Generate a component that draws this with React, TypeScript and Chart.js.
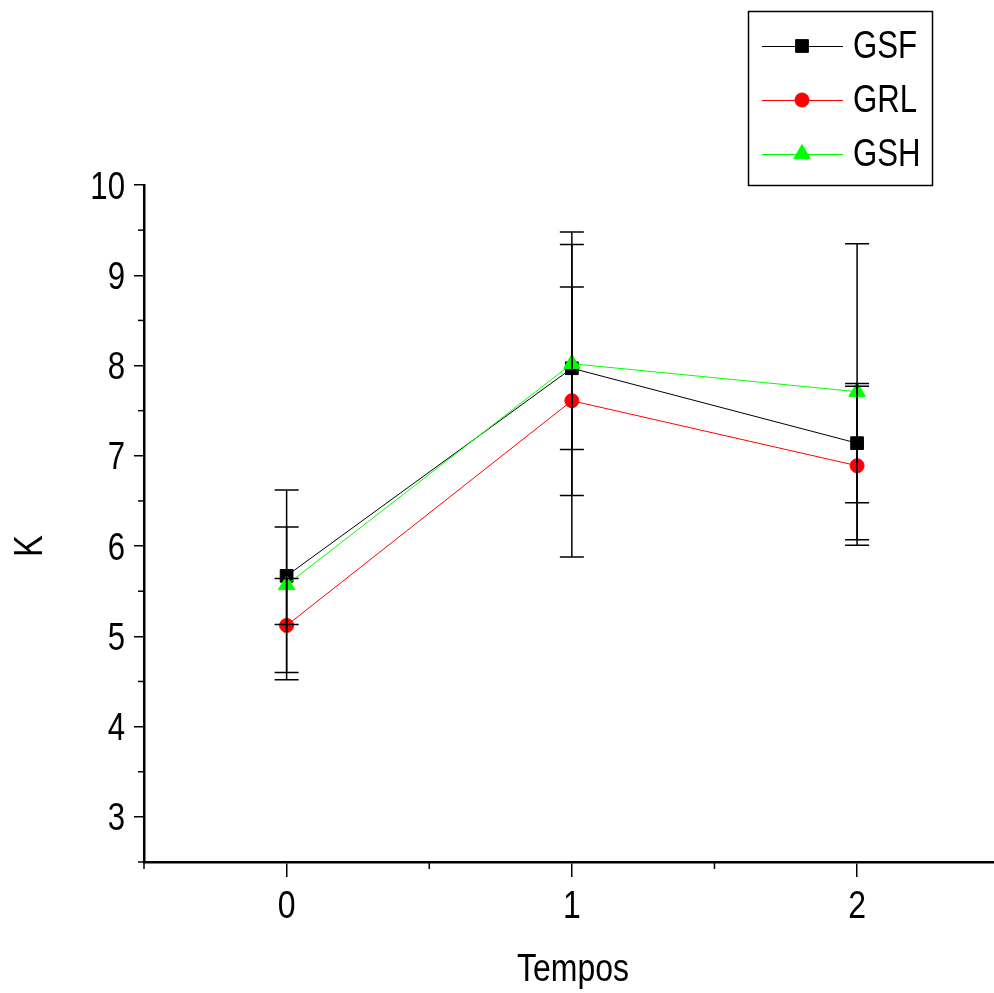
import React, { useEffect, useRef } from 'react';
import { Chart, registerables } from 'chart.js';
import { drawPoint } from 'chart.js/helpers';

Chart.register(...registerables);

// ---- data ----
const times = [0, 1, 2];
const gsfMean = [5.67, 7.97, 7.14];
const gsfErr = [0.54, 0.9, 0.66];
const grlMean = [5.12, 7.61, 6.89];
const grlErr = [0.52, 1.73, 0.88];
const gshMean = [5.57, 8.02, 7.71];
const gshErr = [1.05, 1.46, 1.64];
const seriesNames = ['GSF', 'GRL', 'GSH'];
const xTicks = [0, 1, 2];
const xMinorTicks = [-0.5, 0.5, 1.5, 2.5];
const yTicks = [3, 4, 5, 6, 7, 8, 9, 10];
const yMinorTicks = [2.5, 3.5, 4.5, 5.5, 6.5, 7.5, 8.5, 9.5];
const xTitle = 'Tempos';
const yTitle = 'K';

const FONT = '"Liberation Sans", Arial, sans-serif';
const NARROW = 0.82;

const series = [
  { name: seriesNames[0], mean: gsfMean, err: gsfErr, color: '#000000', style: 'rect', radius: 9, order: 1 },
  { name: seriesNames[1], mean: grlMean, err: grlErr, color: '#ff0000', style: 'circle', radius: 7, order: 2 },
  { name: seriesNames[2], mean: gshMean, err: gshErr, color: '#00ff00', style: 'triangle', radius: 9.5, order: 0 },
];

function narrowText(ctx: CanvasRenderingContext2D, text: string, x: number, y: number, align: CanvasTextAlign, size: number, rot = 0) {
  ctx.save();
  ctx.font = `${size}px ${FONT}`;
  ctx.textBaseline = 'alphabetic';
  ctx.textAlign = align;
  ctx.fillStyle = '#000';
  ctx.translate(x, y);
  if (rot) ctx.rotate(rot);
  ctx.scale(NARROW, 1);
  ctx.fillText(text, 0, 0);
  ctx.restore();
}

const customPlugin = {
  id: 'customDecor',
  afterDatasetsDraw(chart: any) {
    const ctx = chart.ctx;
    const xs = chart.scales.x;
    const ys = chart.scales.y;
    ctx.save();
    ctx.strokeStyle = '#000';
    ctx.lineWidth = 1.5;
    series.forEach((s) => {
      s.mean.forEach((m, i) => {
        const px = xs.getPixelForValue(times[i]);
        const top = ys.getPixelForValue(m + s.err[i]);
        const bot = ys.getPixelForValue(m - s.err[i]);
        ctx.beginPath();
        ctx.moveTo(px, top);
        ctx.lineTo(px, bot);
        ctx.moveTo(px - 12, top);
        ctx.lineTo(px + 12, top);
        ctx.moveTo(px - 12, bot);
        ctx.lineTo(px + 12, bot);
        ctx.stroke();
      });
    });
    ctx.restore();
  },
  afterDraw(chart: any) {
    const ctx = chart.ctx;
    const xs = chart.scales.x;
    const ys = chart.scales.y;
    const area = chart.chartArea;
    ctx.save();
    // minor ticks
    ctx.strokeStyle = '#000';
    ctx.lineWidth = 1.5;
    xMinorTicks.forEach((v) => {
      const px = xs.getPixelForValue(v);
      ctx.beginPath();
      ctx.moveTo(px, area.bottom);
      ctx.lineTo(px, area.bottom + 7);
      ctx.stroke();
    });
    yMinorTicks.forEach((v) => {
      const py = ys.getPixelForValue(v);
      ctx.beginPath();
      ctx.moveTo(area.left, py);
      ctx.lineTo(area.left - 6, py);
      ctx.stroke();
    });

    // tick labels (condensed type, positioned by the scales)
    xs.ticks.forEach((t: any) => {
      const px = xs.getPixelForValue(t.value);
      narrowText(ctx, String(t.value), px, area.bottom + 56, 'center', 39);
    });
    ys.ticks.forEach((t: any) => {
      const py = ys.getPixelForValue(t.value);
      narrowText(ctx, String(t.value), area.left - 19, py + 13.5, 'right', 38);
    });

    // axis titles
    narrowText(ctx, xTitle, 573, 981, 'center', 39);
    narrowText(ctx, yTitle, 41.5, 546, 'center', 40, -Math.PI / 2);

    // legend
    ctx.lineWidth = 1.5;
    ctx.strokeStyle = '#000';
    ctx.fillStyle = '#fff';
    ctx.fillRect(748, 11, 185, 175);
    ctx.strokeRect(748.5, 11.5, 184, 174);
    series.forEach((s, i) => {
      const cy = 46 + i * 54;
      ctx.strokeStyle = s.color;
      ctx.lineWidth = 1;
      ctx.beginPath();
      ctx.moveTo(762, cy + 0.5);
      ctx.lineTo(843, cy + 0.5);
      ctx.stroke();
      ctx.fillStyle = s.color;
      drawPoint(ctx, { pointStyle: s.style, rotation: 0, radius: s.radius, borderWidth: 1 } as any, 802, cy);
      narrowText(ctx, s.name, 853, cy + 12, 'left', 38);
    });
    ctx.restore();
  },
};

export default function App() {
  const canvasRef = useRef<HTMLCanvasElement | null>(null);

  useEffect(() => {
    const canvas = canvasRef.current;
    if (!canvas) return;
    const chart = new Chart(canvas, {
      type: 'line',
      data: {
        datasets: series.map((s) => ({
          label: s.name,
          data: times.map((t, i) => ({ x: t, y: s.mean[i] })),
          borderColor: s.color,
          backgroundColor: s.color,
          borderWidth: 1,
          pointStyle: s.style as any,
          pointRadius: s.radius,
          pointBorderWidth: 1,
          pointBorderColor: s.color,
          pointBackgroundColor: s.color,
          order: s.order,
          fill: false,
          tension: 0,
          clip: false,
        })),
      },
      options: {
        animation: false,
        responsive: false,
        devicePixelRatio: 1,
        layout: { autoPadding: false, padding: { top: 185, left: 0, right: 0, bottom: 0 } },
        plugins: {
          legend: { display: false },
          tooltip: { enabled: false },
        },
        scales: {
          x: {
            type: 'linear',
            min: -0.5,
            max: 2.48,
            afterBuildTicks: (s: any) => {
              s.ticks = xTicks.map((v) => ({ value: v }));
            },
            afterFit: (s: any) => {
              s.height = 993 - 862;
              s.paddingLeft = 0;
              s.paddingRight = 0;
            },
            ticks: { display: false },
            grid: {
              display: true,
              drawOnChartArea: false,
              drawTicks: true,
              tickLength: 15,
              color: '#000',
              lineWidth: 1.5,
            },
            border: { display: true, color: '#000', width: 2.5 },
          },
          y: {
            type: 'linear',
            min: 2.5,
            max: 10,
            afterBuildTicks: (s: any) => {
              s.ticks = yTicks.map((v) => ({ value: v }));
            },
            afterFit: (s: any) => {
              s.width = 144;
              s.paddingTop = 0;
              s.paddingBottom = 0;
            },
            ticks: { display: false },
            grid: {
              display: true,
              drawOnChartArea: false,
              drawTicks: true,
              tickLength: 10,
              color: '#000',
              lineWidth: 1.5,
            },
            border: { display: true, color: '#000', width: 2.5 },
          },
        },
      },
      plugins: [customPlugin],
    } as any);
    return () => chart.destroy();
  }, []);

  return (
    <div style={{ position: 'fixed', left: 0, top: 0, width: 994, height: 993, background: '#fff' }}>
      <canvas ref={canvasRef} width={994} height={993} style={{ width: 994, height: 993, display: 'block' }} />
    </div>
  );
}
